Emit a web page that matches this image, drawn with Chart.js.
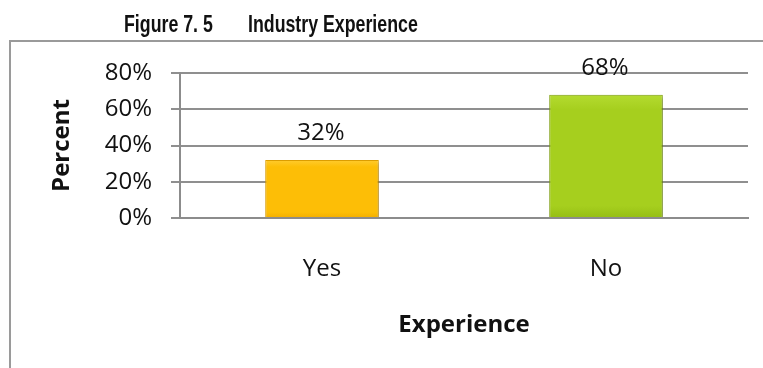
<!DOCTYPE html>
<html>
<head>
<meta charset="utf-8">
<script src="https://cdn.jsdelivr.net/npm/chart.js@4/dist/chart.umd.min.js"></script>
<style>
  html, body { margin: 0; padding: 0; background: #ffffff; }
  #wrap { width: 763px; height: 368px; position: relative; }
</style>
</head>
<body>
<div id="wrap"><canvas id="c" width="763" height="368"></canvas></div>
<script>
// Industry experience survey: share of respondents
const categories = ['Yes', 'No'];
const percentValues = [0.32, 0.68];
const valueLabels = ['32%', '68%'];
const yTicks = [0, 0.2, 0.4, 0.6, 0.8];
const titleParts = ['Figure 7. 5', 'Industry Experience'];
const xAxisTitle = 'Experience';
const yAxisTitle = 'Percent';

const bodyFont = "'Open Sans', sans-serif";
const fillTop = ['#FFCB2E', '#B4DB30'];
const fillMid = ['#FDBE06', '#A6CF1E'];
const fillBot = ['#F2AE00', '#95BE14'];
const edge = ['#E2A200', '#82A30F'];

function barGradient(ctx) {
  const chart = ctx.chart;
  const area = chart.chartArea;
  const yScale = chart.scales && chart.scales.y;
  if (!area || !yScale) return fillMid[ctx.dataIndex];
  const top = yScale.getPixelForValue(percentValues[ctx.dataIndex]);
  if (!isFinite(top) || !isFinite(area.bottom)) return fillMid[ctx.dataIndex];
  const g = chart.ctx.createLinearGradient(0, top, 0, area.bottom);
  g.addColorStop(0, fillTop[ctx.dataIndex]);
  g.addColorStop(0.12, fillMid[ctx.dataIndex]);
  g.addColorStop(0.9, fillMid[ctx.dataIndex]);
  g.addColorStop(1, fillBot[ctx.dataIndex]);
  return g;
}

// outer frame and two-part heading (bold, horizontally condensed)
const framePlugin = {
  id: 'frame',
  beforeDraw(chart) {
    const c = chart.ctx;
    c.save();
    c.strokeStyle = '#9a9a9a';
    c.lineWidth = 2;
    c.beginPath();
    c.moveTo(10, 368);
    c.lineTo(10, 41);
    c.lineTo(763, 41);
    c.stroke();
    c.fillStyle = '#111';
    c.font = "bold 24px 'Liberation Sans', Arial, sans-serif";
    c.textBaseline = 'alphabetic';
    c.textAlign = 'left';
    const sx = 0.74;
    [[titleParts[0], 124], [titleParts[1], 248]].forEach(([t, x]) => {
      c.save();
      c.translate(x, 32);
      c.scale(sx, 1);
      c.fillText(t, 0, 0);
      c.restore();
    });
    c.restore();
  }
};

// soft shadow behind the bars
const shadowPlugin = {
  id: 'barShadow',
  beforeDatasetsDraw(chart) {
    const c = chart.ctx;
    c.save();
    c.shadowColor = 'rgba(0,0,0,0.25)';
    c.shadowBlur = 4;
    c.shadowOffsetX = 2;
    c.shadowOffsetY = 2;
  },
  afterDatasetsDraw(chart) {
    chart.ctx.restore();
  }
};

// value labels above each bar
const valueLabelPlugin = {
  id: 'valueLabels',
  afterDatasetsDraw(chart) {
    const c = chart.ctx;
    const meta = chart.getDatasetMeta(0);
    c.save();
    c.fillStyle = '#111';
    c.font = '24px ' + bodyFont;
    c.textAlign = 'center';
    c.textBaseline = 'middle';
    meta.data.forEach((el, i) => {
      c.fillText(valueLabels[i], el.x - 1, el.y - 27);
    });
    c.restore();
  }
};

function build() {
  new Chart(document.getElementById('c'), {
    type: 'bar',
    data: {
      labels: categories,
      datasets: [{
        data: percentValues,
        backgroundColor: barGradient,
        borderColor: edge,
        borderWidth: 1,
        barPercentage: 0.8,
        categoryPercentage: 0.5
      }]
    },
    options: {
      responsive: false,
      animation: false,
      events: [],
      layout: { padding: { left: 0, right: 15, top: 73, bottom: 0 } },
      plugins: {
        legend: { display: false },
        tooltip: { enabled: false },
        title: { display: false }
      },
      scales: {
        x: {
          afterFit(scale) { scale.height = 150; },
          grid: { display: false, drawTicks: false },
          border: { display: true, color: '#8c8c8c', width: 2 },
          ticks: {
            color: '#111',
            font: { family: bodyFont, size: 24 },
            padding: 37
          },
          title: {
            display: true,
            text: xAxisTitle,
            color: '#111',
            font: { family: bodyFont, size: 24, weight: 'bold' },
            padding: { top: 0, bottom: 28 }
          }
        },
        y: {
          min: 0,
          max: 0.8,
          afterFit(scale) { scale.width = 180; },
          afterBuildTicks(scale) { scale.ticks = yTicks.map(v => ({ value: v })); },
          grid: {
            color: '#8f8f8f',
            lineWidth: 2,
            drawTicks: true,
            tickLength: 9,
            tickColor: '#8f8f8f'
          },
          border: { display: true, color: '#8c8c8c', width: 2 },
          ticks: {
            color: '#111',
            font: { family: bodyFont, size: 24 },
            padding: 19,
            callback: v => Math.round(v * 100) + '%'
          },
          title: {
            display: true,
            text: yAxisTitle,
            color: '#111',
            font: { family: bodyFont, size: 24, weight: 'bold' },
            padding: { top: 48, bottom: 0 }
          }
        }
      }
    },
    plugins: [framePlugin, shadowPlugin, valueLabelPlugin]
  });
}

// make sure the installed faces are ready before the first paint
Promise.all([
  document.fonts.load("24px 'Open Sans'"),
  document.fonts.load("bold 24px 'Open Sans'"),
  document.fonts.load("bold 24px 'Liberation Sans'")
]).catch(() => {}).then(build);
</script>
</body>
</html>
